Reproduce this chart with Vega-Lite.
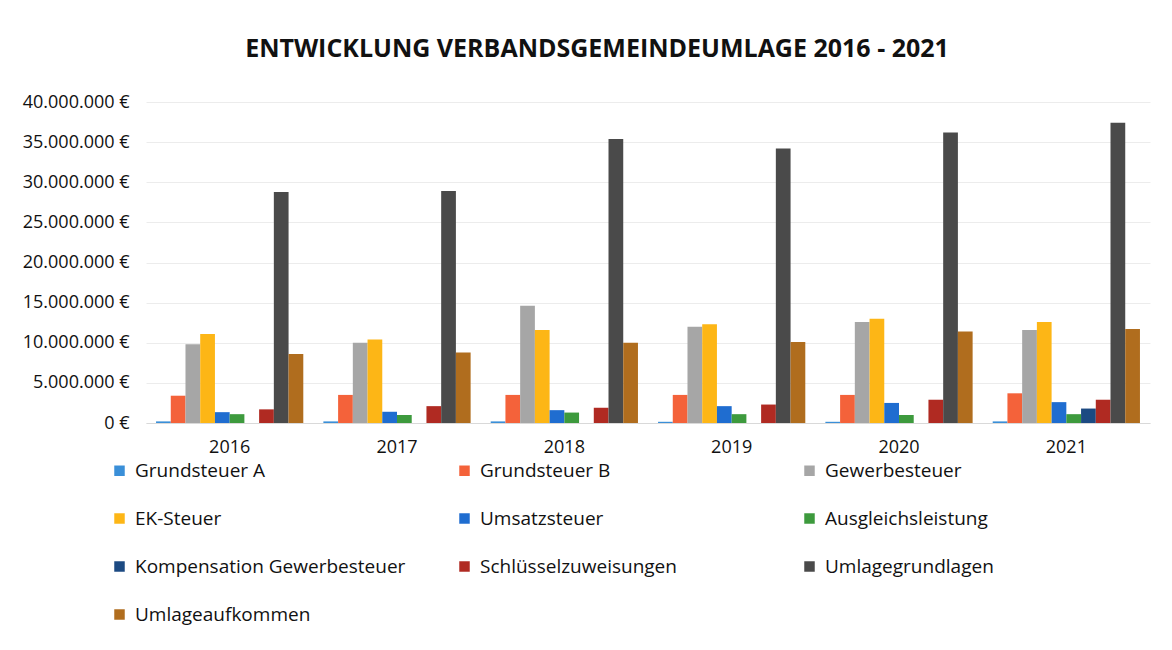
{
  "$schema": "https://vega.github.io/schema/vega-lite/v6.json",
  "autosize": "none",
  "width": 1004,
  "height": 321,
  "padding": {"left": 146, "top": 102, "right": 22, "bottom": 227},
  "background": "white",
  "title": {
    "text": "ENTWICKLUNG VERBANDSGEMEINDEUMLAGE 2016 - 2021",
    "font": "Open Sans",
    "fontSize": 25,
    "fontWeight": "bold",
    "color": "#111111",
    "anchor": "middle",
    "frame": "group",
    "dx": -51,
    "offset": 31
  },
  "config": {
    "locale": {"number": {"decimal": ",", "thousands": ".", "grouping": [3], "currency": ["", " €"]}},
    "view": {"stroke": null},
    "font": "Open Sans"
  },
  "data": {
    "values": [
      {"year": "2016", "series": "Grundsteuer A", "value": 200000},
      {"year": "2016", "series": "Grundsteuer B", "value": 3400000},
      {"year": "2016", "series": "Gewerbesteuer", "value": 9800000},
      {"year": "2016", "series": "EK-Steuer", "value": 11100000},
      {"year": "2016", "series": "Umsatzsteuer", "value": 1350000},
      {"year": "2016", "series": "Ausgleichsleistung", "value": 1100000},
      {"year": "2016", "series": "Kompensation Gewerbesteuer", "value": 0},
      {"year": "2016", "series": "Schlüsselzuweisungen", "value": 1700000},
      {"year": "2016", "series": "Umlagegrundlagen", "value": 28800000},
      {"year": "2016", "series": "Umlageaufkommen", "value": 8600000},
      {"year": "2017", "series": "Grundsteuer A", "value": 200000},
      {"year": "2017", "series": "Grundsteuer B", "value": 3500000},
      {"year": "2017", "series": "Gewerbesteuer", "value": 10000000},
      {"year": "2017", "series": "EK-Steuer", "value": 10400000},
      {"year": "2017", "series": "Umsatzsteuer", "value": 1400000},
      {"year": "2017", "series": "Ausgleichsleistung", "value": 1000000},
      {"year": "2017", "series": "Kompensation Gewerbesteuer", "value": 0},
      {"year": "2017", "series": "Schlüsselzuweisungen", "value": 2100000},
      {"year": "2017", "series": "Umlagegrundlagen", "value": 28900000},
      {"year": "2017", "series": "Umlageaufkommen", "value": 8800000},
      {"year": "2018", "series": "Grundsteuer A", "value": 200000},
      {"year": "2018", "series": "Grundsteuer B", "value": 3500000},
      {"year": "2018", "series": "Gewerbesteuer", "value": 14600000},
      {"year": "2018", "series": "EK-Steuer", "value": 11600000},
      {"year": "2018", "series": "Umsatzsteuer", "value": 1600000},
      {"year": "2018", "series": "Ausgleichsleistung", "value": 1300000},
      {"year": "2018", "series": "Kompensation Gewerbesteuer", "value": 0},
      {"year": "2018", "series": "Schlüsselzuweisungen", "value": 1900000},
      {"year": "2018", "series": "Umlagegrundlagen", "value": 35400000},
      {"year": "2018", "series": "Umlageaufkommen", "value": 10000000},
      {"year": "2019", "series": "Grundsteuer A", "value": 150000},
      {"year": "2019", "series": "Grundsteuer B", "value": 3500000},
      {"year": "2019", "series": "Gewerbesteuer", "value": 12000000},
      {"year": "2019", "series": "EK-Steuer", "value": 12300000},
      {"year": "2019", "series": "Umsatzsteuer", "value": 2100000},
      {"year": "2019", "series": "Ausgleichsleistung", "value": 1100000},
      {"year": "2019", "series": "Kompensation Gewerbesteuer", "value": 0},
      {"year": "2019", "series": "Schlüsselzuweisungen", "value": 2300000},
      {"year": "2019", "series": "Umlagegrundlagen", "value": 34200000},
      {"year": "2019", "series": "Umlageaufkommen", "value": 10100000},
      {"year": "2020", "series": "Grundsteuer A", "value": 150000},
      {"year": "2020", "series": "Grundsteuer B", "value": 3500000},
      {"year": "2020", "series": "Gewerbesteuer", "value": 12600000},
      {"year": "2020", "series": "EK-Steuer", "value": 13000000},
      {"year": "2020", "series": "Umsatzsteuer", "value": 2500000},
      {"year": "2020", "series": "Ausgleichsleistung", "value": 1000000},
      {"year": "2020", "series": "Kompensation Gewerbesteuer", "value": 0},
      {"year": "2020", "series": "Schlüsselzuweisungen", "value": 2900000},
      {"year": "2020", "series": "Umlagegrundlagen", "value": 36200000},
      {"year": "2020", "series": "Umlageaufkommen", "value": 11400000},
      {"year": "2021", "series": "Grundsteuer A", "value": 200000},
      {"year": "2021", "series": "Grundsteuer B", "value": 3700000},
      {"year": "2021", "series": "Gewerbesteuer", "value": 11600000},
      {"year": "2021", "series": "EK-Steuer", "value": 12600000},
      {"year": "2021", "series": "Umsatzsteuer", "value": 2600000},
      {"year": "2021", "series": "Ausgleichsleistung", "value": 1100000},
      {"year": "2021", "series": "Kompensation Gewerbesteuer", "value": 1800000},
      {"year": "2021", "series": "Schlüsselzuweisungen", "value": 2900000},
      {"year": "2021", "series": "Umlagegrundlagen", "value": 37400000},
      {"year": "2021", "series": "Umlageaufkommen", "value": 11700000}
    ]
  },
  "mark": {"type": "bar"},
  "encoding": {
    "x": {
      "field": "year",
      "type": "nominal",
      "scale": {"paddingInner": 0.12, "paddingOuter": 0.06},
      "axis": {
        "title": null,
        "labelAngle": 0,
        "labelFontSize": 18,
        "labelColor": "#111111",
        "labelPadding": 15,
        "ticks": false,
        "domain": true,
        "domainColor": "#d9d9d9"
      }
    },
    "xOffset": {
      "field": "series",
      "type": "nominal",
      "sort": ["Grundsteuer A", "Grundsteuer B", "Gewerbesteuer", "EK-Steuer", "Umsatzsteuer", "Ausgleichsleistung", "Kompensation Gewerbesteuer", "Schlüsselzuweisungen", "Umlagegrundlagen", "Umlageaufkommen"],
      "scale": {"paddingInner": 0}
    },
    "y": {
      "field": "value",
      "type": "quantitative",
      "scale": {"domain": [0, 40000000]},
      "axis": {
        "title": null,
        "values": [0, 5000000, 10000000, 15000000, 20000000, 25000000, 30000000, 35000000, 40000000],
        "format": ",d",
        "labelExpr": "datum.label + ' €'",
        "labelFontSize": 18,
        "labelColor": "#111111",
        "labelPadding": 17,
        "ticks": false,
        "domain": false,
        "gridColor": "#ececec"
      }
    },
    "color": {
      "field": "series",
      "type": "nominal",
      "sort": ["Grundsteuer A", "Grundsteuer B", "Gewerbesteuer", "EK-Steuer", "Umsatzsteuer", "Ausgleichsleistung", "Kompensation Gewerbesteuer", "Schlüsselzuweisungen", "Umlagegrundlagen", "Umlageaufkommen"],
      "scale": {
        "domain": ["Grundsteuer A", "Grundsteuer B", "Gewerbesteuer", "EK-Steuer", "Umsatzsteuer", "Ausgleichsleistung", "Kompensation Gewerbesteuer", "Schlüsselzuweisungen", "Umlagegrundlagen", "Umlageaufkommen"],
        "range": ["#3a8fd8", "#f4623a", "#a6a6a6", "#fdb616", "#1f6dd0", "#3d9a3d", "#1c4a82", "#b02a22", "#4a4a4a", "#b06d1e"]
      },
      "legend": {
        "title": null,
        "orient": "none",
        "legendX": -36,
        "legendY": 359,
        "direction": "horizontal",
        "columns": 3,
        "gridAlign": "all",
        "columnPadding": 49,
        "rowPadding": 28,
        "symbolType": "square",
        "symbolSize": 110,
        "symbolStrokeWidth": 0,
        "labelFontSize": 19,
        "labelColor": "#111111",
        "labelOffset": 6,
        "labelLimit": 400
      }
    }
  }
}
